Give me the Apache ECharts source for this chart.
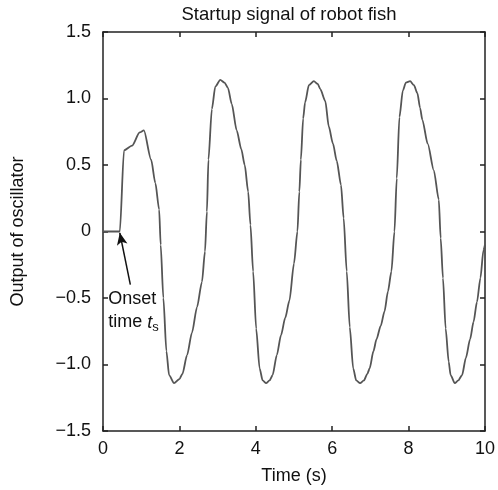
<!DOCTYPE html>
<html>
<head>
<meta charset="utf-8">
<script src="https://cdn.jsdelivr.net/npm/echarts@6/dist/echarts.min.js"></script>
<style>
  html, body { margin: 0; padding: 0; background: #fff; }
  #chart { width: 498px; height: 490px; }
</style>
</head>
<body>
<div id="chart"></div>
<script>
// Oscillator output (time in s, output value)
const time = [0, 0.44, 0.55, 0.76, 0.96, 1.07, 1.26, 1.37, 1.47, 1.51, 1.58, 1.66, 1.73, 1.86, 2.0, 2.08, 2.2, 2.33, 2.46, 2.59, 2.67, 2.72, 2.76, 2.85, 2.94, 3.07, 3.18, 3.27, 3.37, 3.5, 3.62, 3.71, 3.8, 3.86, 3.93, 4.01, 4.1, 4.18, 4.27, 4.36, 4.44, 4.55, 4.66, 4.77, 4.88, 5.0, 5.09, 5.14, 5.18, 5.24, 5.29, 5.39, 5.52, 5.62, 5.69, 5.82, 5.91, 6.02, 6.12, 6.23, 6.3, 6.38, 6.46, 6.55, 6.63, 6.73, 6.83, 6.92, 6.98, 7.08, 7.16, 7.27, 7.37, 7.46, 7.55, 7.63, 7.69, 7.76, 7.85, 7.93, 8.04, 8.14, 8.23, 8.3, 8.36, 8.5, 8.66, 8.79, 8.84, 8.9, 8.97, 9.05, 9.1, 9.21, 9.3, 9.4, 9.5, 9.61, 9.7, 9.79, 9.88, 9.96, 10];
const output = [0, 0, 0.61, 0.645, 0.745, 0.76, 0.54, 0.365, 0.165, -0.1, -0.5, -0.9, -1.08, -1.14, -1.11, -1.07, -0.93, -0.76, -0.57, -0.38, -0.15, 0.15, 0.54, 0.92, 1.09, 1.14, 1.12, 1.08, 0.96, 0.76, 0.62, 0.5, 0.3, 0.05, -0.3, -0.73, -1.03, -1.12, -1.14, -1.12, -1.08, -0.93, -0.78, -0.65, -0.52, -0.24, 0.0, 0.3, 0.54, 0.85, 0.97, 1.1, 1.13, 1.11, 1.07, 0.98, 0.79, 0.66, 0.53, 0.35, 0.1, -0.3, -0.72, -1.03, -1.12, -1.14, -1.12, -1.07, -1.03, -0.9, -0.81, -0.71, -0.6, -0.45, -0.3, 0.0, 0.4, 0.86, 1.06, 1.12, 1.13, 1.1, 1.04, 0.93, 0.84, 0.66, 0.46, 0.24, -0.05, -0.35, -0.73, -0.98, -1.08, -1.14, -1.12, -1.08, -0.95, -0.81, -0.68, -0.53, -0.35, -0.14, -0.1];

// Onset annotation: arrow tail -> tip, and text anchor (data coordinates)
const onsetArrow = [[0.716, -0.4], [0.44, -0.01]];
const onsetText = [0.14, -0.5];

const FONT = "'Liberation Sans', Arial, Helvetica, sans-serif";
const AXIS_COLOR = '#222';

const fmtY = v => (v === 0 ? '0' : v.toFixed(1).replace('-', '\u2212'));

const chart = echarts.init(document.getElementById('chart'), null, { renderer: 'canvas' });

const tick = { show: true, inside: true, length: 5, lineStyle: { color: AXIS_COLOR, width: 1.5 } };
const line = { show: true, onZero: false, lineStyle: { color: AXIS_COLOR, width: 1.5 } };

chart.setOption({
  animation: false,
  backgroundColor: '#fff',
  textStyle: { fontFamily: FONT },
  grid: { left: 103, right: 8, top: 32, bottom: 58, containLabel: false },
  xAxis: [
    {
      type: 'value', min: 0, max: 10, interval: 2, position: 'bottom',
      name: 'Time (s)', nameLocation: 'middle', nameGap: 36,
      nameTextStyle: { fontSize: 18, color: '#111', fontFamily: FONT },
      axisLine: line, axisTick: tick, splitLine: { show: false },
      axisLabel: { fontSize: 18, color: '#111', margin: 9, fontFamily: FONT }
    },
    {
      type: 'value', min: 0, max: 10, interval: 2, position: 'top',
      axisLine: line, axisTick: tick, splitLine: { show: false },
      axisLabel: { show: false }
    }
  ],
  yAxis: [
    {
      type: 'value', min: -1.5, max: 1.5, interval: 0.5, position: 'left',
      name: 'Output of oscillator', nameLocation: 'middle', nameGap: 76,
      nameTextStyle: { fontSize: 18, color: '#111', fontFamily: FONT },
      axisLine: line, axisTick: tick, splitLine: { show: false },
      axisLabel: { fontSize: 18, color: '#111', margin: 12, fontFamily: FONT, formatter: fmtY }
    },
    {
      type: 'value', min: -1.5, max: 1.5, interval: 0.5, position: 'right',
      axisLine: line, axisTick: tick, splitLine: { show: false },
      axisLabel: { show: false }
    }
  ],
  series: [
    {
      type: 'line',
      data: time.map((t, i) => [t, output[i]]),
      showSymbol: false,
      smooth: 0.25,
      smoothMonotone: 'x',
      lineStyle: { color: '#555', width: 1.8 },
      markLine: {
        silent: true,
        symbol: ['none', 'arrow'],
        symbolSize: [8, 12],
        label: { show: false },
        lineStyle: { color: '#111', width: 1.5, type: 'solid' },
        data: [[{ coord: onsetArrow[0] }, { coord: onsetArrow[1] }]]
      }
    }
  ]
});

// Title and onset label placed through the axis scales
const textPos = chart.convertToPixel({ gridIndex: 0 }, onsetText);
const left = chart.convertToPixel({ gridIndex: 0 }, [0, 0]);
const right = chart.convertToPixel({ gridIndex: 0 }, [10, 0]);

chart.setOption({
  graphic: [
    {
      type: 'text',
      x: (left[0] + right[0]) / 2 - 5, y: 15,
      style: {
        text: 'Startup signal of robot fish',
        fontSize: 18.5, fontFamily: FONT, fill: '#111',
        textAlign: 'center', textVerticalAlign: 'middle'
      }
    },
    {
      type: 'text',
      x: textPos[0], y: textPos[1] - 10,
      style: {
        text: 'Onset\ntime {i|t}{s|s}',
        fontSize: 18, fontFamily: FONT, fill: '#111',
        lineHeight: 23,
        textAlign: 'left', textVerticalAlign: 'top',
        rich: {
          i: { fontSize: 18, fontStyle: 'italic', fontFamily: FONT, fill: '#111' },
          s: { fontSize: 13, fontFamily: FONT, fill: '#111', verticalAlign: 'bottom', padding: [8, 0, 0, 0] }
        }
      }
    }
  ]
});
</script>
</body>
</html>
